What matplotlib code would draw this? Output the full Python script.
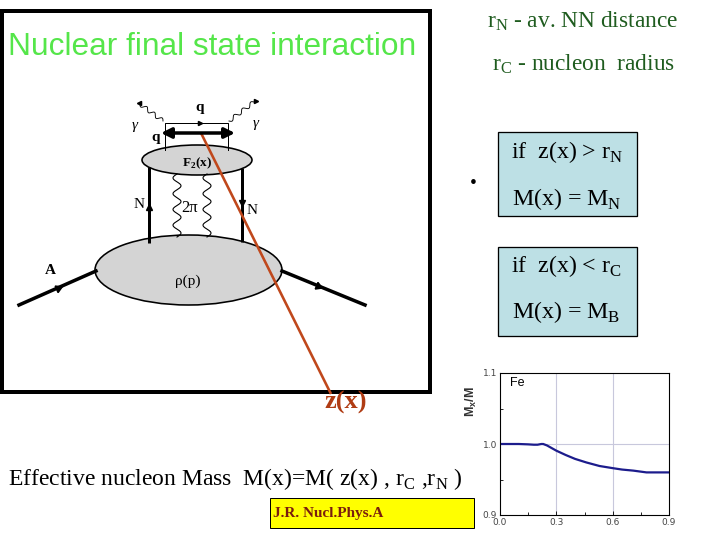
import numpy as np
import matplotlib
matplotlib.use("Agg")
import matplotlib.pyplot as plt
from matplotlib.patches import Ellipse, Rectangle

# ---- data of the small chart (Fe) ----
x_vals = [0.0, 0.05, 0.10, 0.15, 0.18, 0.20, 0.22, 0.23, 0.25, 0.30, 0.35, 0.40,
          0.46, 0.53, 0.60, 0.65, 0.71, 0.78, 0.85, 0.90]
mx_vals = [1.000, 1.000, 1.000, 0.9995, 0.999, 0.999, 1.000, 1.000, 0.998, 0.9906,
           0.9845, 0.979, 0.974, 0.969, 0.966, 0.964, 0.9625, 0.960, 0.960, 0.960]
x_ticks = [0.0, 0.3, 0.6, 0.9]
x_ticklabels = ["0.0", "0.3", "0.6", "0.9"]
y_ticks = [0.9, 1.0, 1.1]
y_ticklabels = ["0.9", "1.0", "1.1"]

SERIF = "Liberation Serif"
SANS = "Liberation Sans"
PX = 0.72  # points per pixel at dpi 100

fig = plt.figure(figsize=(7.2, 5.4), dpi=100)
fig.patch.set_facecolor("white")

bg = fig.add_axes([0, 0, 1, 1])
bg.set_xlim(0, 720)
bg.set_ylim(540, 0)
bg.axis("off")

# frame of the diagram
bg.add_patch(Rectangle((2, 11), 428, 380.5, fill=False, ec="black", lw=4 * PX))

bg.text(8, 55, "Nuclear final state interaction", family=SANS, fontsize=22.8,
        color="#55e64a", va="baseline", ha="left")

# ---- Feynman-like diagram ----
bg.add_patch(Ellipse((188.5, 270), 187, 70, fc="#d4d4d4", ec="black", lw=1.6 * PX))
bg.add_patch(Ellipse((197, 160), 110, 30, fc="#d4d4d4", ec="black", lw=1.6 * PX))

# nucleon lines
bg.plot([149, 149], [167, 243], color="black", lw=3 * PX, solid_capstyle="butt")
bg.plot([242, 242], [168, 242], color="black", lw=3 * PX, solid_capstyle="butt")
bg.plot([149], [207], marker="^", color="black", ms=5)
bg.plot([242], [203], marker="v", color="black", ms=5)


def wavy(x0, y0, x1, y1, amp, n, **kw):
    t = np.linspace(0, 1, 200)
    dx, dy = x1 - x0, y1 - y0
    L = np.hypot(dx, dy)
    nx, ny = -dy / L, dx / L
    off = amp * np.sin(2 * np.pi * n * t)
    bg.plot(x0 + dx * t + nx * off, y0 + dy * t + ny * off, **kw)


wavy(177, 174, 177, 237, 4, 4, color="black", lw=1.1 * PX)
wavy(207, 174, 207, 237, 4, 4, color="black", lw=1.1 * PX)

# quark lines on top
bg.plot([165, 165, 228, 228], [150, 123, 123, 150], color="black", lw=1.0 * PX)
bg.plot([200], [123], marker=">", color="black", ms=3)
bg.annotate("", xy=(235, 133), xytext=(161, 133),
            arrowprops=dict(arrowstyle="<|-|>,head_length=0.6,head_width=0.3",
                            color="black", lw=3.5 * PX, shrinkA=0, shrinkB=0))

# photons
wavy(163, 121, 140, 104, 2, 3, color="black", lw=0.9 * PX)
bg.plot([139], [103], marker="<", color="black", ms=3)
wavy(229, 121, 254, 102, 2, 3, color="black", lw=0.9 * PX)
bg.plot([256], [101], marker=">", color="black", ms=3)

# incoming / outgoing nucleus
bg.plot([19, 96], [305, 271], color="black", lw=3.5 * PX)
bg.plot([58], [288], marker=(3, 0, -66), color="black", ms=6)
bg.plot([282, 365], [271, 305], color="black", lw=3.5 * PX)
bg.plot([318], [286], marker=(3, 0, -112), color="black", ms=6)

lab = dict(family=SERIF, color="black", ha="center", va="center")
bg.text(200, 107, "q", fontsize=11, fontweight="bold", **lab)
bg.text(156, 137, "q", fontsize=11, fontweight="bold", **lab)
bg.text(135, 126, "γ", fontsize=11, style="italic", **lab)
bg.text(256, 124, "γ", fontsize=11, style="italic", **lab)
bg.text(197, 163, "F$_\\mathregular{2}$(x)", fontsize=9.5, fontweight="bold", **lab)
bg.text(139, 205, "N", fontsize=11, **lab)
bg.text(252, 211, "N", fontsize=11, **lab)
bg.text(190, 208, "2π", fontsize=12, **lab)
bg.text(50, 270, "A", fontsize=11, fontweight="bold", **lab)
bg.text(188, 281, "ρ(p)", fontsize=11, **lab)

# red line to z(x)
red = "#c0481c"
bg.plot([201, 331], [133, 394], color=red, lw=2.6 * PX, solid_capstyle="butt")
bg.text(346, 402, "z(x)", family=SERIF, fontsize=19, fontweight="bold",
        color="#b03c14", ha="center", va="center")

# ---- right hand texts ----
green = "#1f5c1f"
bg.text(487, 27, "r$_\\mathregular{N}$ - av. NN distance", family=SERIF,
        fontsize=16.8, color=green, ha="left", va="baseline")
bg.text(492, 70, "r$_\\mathregular{C}$ - nucleon  radius", family=SERIF,
        fontsize=16.8, color=green, ha="left", va="baseline")

bg.text(473, 183, "•", family=SERIF, fontsize=14, color="black",
        ha="center", va="center")

boxc = "#bde0e5"
bg.add_patch(Rectangle((498, 132), 139, 84, fc=boxc, ec="black", lw=1.3 * PX))
bg.add_patch(Rectangle((498, 247), 139, 89, fc=boxc, ec="black", lw=1.3 * PX))
btxt = dict(family=SERIF, fontsize=17.2, color="black", ha="left", va="baseline")
bg.text(511, 158, "if  z(x) > r$_\\mathregular{N}$", **btxt)
bg.text(512, 205, "M(x) = M$_\\mathregular{N}$", **btxt)
bg.text(511, 272, "if  z(x) < r$_\\mathregular{C}$", **btxt)
bg.text(512, 318, "M(x) = M$_\\mathregular{B}$", **btxt)

bg.text(8, 485, "Effective nucleon Mass  M(x)=M( z(x) , r$_\\mathregular{C}$ ,r$_\\mathregular{N}$ )",
        family=SERIF, fontsize=17, color="black", ha="left", va="baseline")

bg.add_patch(Rectangle((270, 498), 204, 30, fc="#ffff00", ec="black", lw=1.0 * PX))
bg.text(273, 513, "J.R. Nucl.Phys.A", family=SERIF, fontsize=11, fontweight="bold",
        color="#7a1e0e", ha="left", va="center")

# ---- small chart ----
ax = fig.add_axes([500 / 720, 1 - 515 / 540, 169 / 720, 142 / 540])
ax.plot(x_vals, mx_vals, color="#1c1c8c", lw=1.6)
ax.set_xlim(0, 0.9)
ax.set_ylim(0.9, 1.1)
ax.set_xticks(x_ticks)
ax.set_xticklabels(x_ticklabels)
ax.set_yticks(y_ticks)
ax.set_yticklabels(y_ticklabels)
ax.set_xticks([0.15, 0.45, 0.75], minor=True)
ax.set_yticks([0.95, 1.05], minor=True)
ax.tick_params(which="both", direction="in", labelsize=6.5, labelcolor="#444444",
               pad=2)
ax.tick_params(which="major", length=3, width=0.6)
ax.tick_params(which="minor", length=2, width=0.6)
for s in ax.spines.values():
    s.set_linewidth(0.8)
for gx in [0.3, 0.6]:
    ax.axvline(gx, color="#c8c8dc", lw=0.8, zorder=0)
ax.axhline(1.0, color="#c8c8dc", lw=0.8, zorder=0)
ax.text(0.06, 0.93, "Fe", transform=ax.transAxes, family=SANS, fontsize=9,
        color="black", ha="left", va="center")

fig.text(471 / 720, 1 - 402 / 540, "M$_\\mathregular{x}$/M", family=SANS,
         fontsize=9, fontweight="bold", color="#333333", rotation=90,
         ha="center", va="center")

fig.savefig("out.png", dpi=100, facecolor="white")
